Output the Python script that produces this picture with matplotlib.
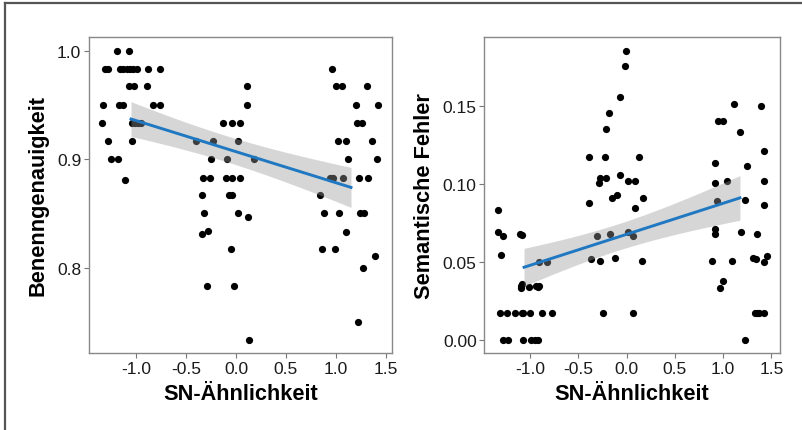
import numpy as np
import matplotlib
matplotlib.use('Agg')
import matplotlib.pyplot as plt
from matplotlib.lines import Line2D

plt.rcParams['font.family'] = ['Liberation Sans', 'DejaVu Sans']

# Benennungsgenauigkeit (links)
ben_x = [-1.19, -1.067,
         -1.31, -1.28, -1.16, -1.127, -1.093, -1.06, -1.027, -0.99, -0.883, -0.76, 0.963,
         -1.07, -1.017, -0.887, 0.107, 1.0, 1.063, 1.31,
         -1.33, -1.167, -1.133, -0.833, -0.76, 0.11, 1.197, 1.417,
         -1.34, -1.04, -1.01, -0.98, -0.95, -0.127, -0.037, 0.043, 1.207, 1.26,
         -1.28, -1.037, -0.403, -0.227, 0.02, 1.017, 1.097, 1.363,
         -1.25, -1.18, -0.25, -0.093, 0.18, 1.123, 1.41,
         -1.107,
         -0.327, -0.257, -0.103, -0.037, 0.043, 0.937, 0.957, 0.973, 1.067, 1.23, 1.32,
         -0.343, -0.067, -0.043, 0.843,
         -0.32, 0.02, 0.88, 1.033, 1.24, 1.283,
         0.123, -0.337, -0.277, 1.097,
         -0.05, 0.863, 0.99,
         1.387, 1.27, -0.287, -0.02, 1.22, 0.133]
ben_y = [1.0, 1.0,
         0.983, 0.983, 0.983, 0.983, 0.983, 0.983, 0.983, 0.983, 0.983, 0.983, 0.983,
         0.967, 0.967, 0.967, 0.967, 0.967, 0.967, 0.967,
         0.95, 0.95, 0.95, 0.95, 0.95, 0.95, 0.95, 0.95,
         0.933, 0.933, 0.933, 0.933, 0.933, 0.933, 0.933, 0.933, 0.933, 0.933,
         0.917, 0.917, 0.917, 0.917, 0.917, 0.917, 0.917, 0.917,
         0.9, 0.9, 0.9, 0.9, 0.9, 0.9, 0.9,
         0.881,
         0.883, 0.883, 0.883, 0.883, 0.883, 0.883, 0.883, 0.883, 0.883, 0.883, 0.883,
         0.867, 0.867, 0.867, 0.867,
         0.85, 0.85, 0.85, 0.85, 0.85, 0.85,
         0.847, 0.831, 0.834, 0.833,
         0.817, 0.817, 0.817,
         0.811, 0.8, 0.783, 0.783, 0.75, 0.733]

# Semantische Fehler (rechts)
sem_x = [-1.33, -1.337, -1.285, -1.302, -1.316, -1.237, -1.161, -1.088, -1.078, -1.005, -0.877, -0.77,
         -1.285, -1.226, -1.078, -0.991, -0.953, -0.922,
         -1.105, -1.088, -1.1, -1.095, -1.09, -1.009, -0.943, -0.922, -0.912, -0.905, -0.822,
         -0.387, -0.387, -0.366, -0.307, -0.287, -0.273, -0.211, -0.221, -0.218, -0.187,
         -0.273, -0.249, -0.176, -0.152, -0.117, -0.097, -0.069, -0.069, -0.021, -0.007,
         0.017, 0.017, 0.062, 0.069, 0.083, 0.083, 0.128, 0.155, 0.173,
         0.881, 0.915, 0.912, 0.915, 0.918, 0.933, 0.943, 0.995, 0.967, 1.002, 1.036, 1.092,
         1.109, 1.178, 1.185, 1.226, 1.226, 1.25, 1.313, 1.34, 1.354, 1.333, 1.35, 1.368,
         1.392, 1.427, 1.427, 1.427, 1.427, 1.454, 1.427]
sem_y = [0.0834, 0.0691, 0.0668, 0.0544, 0.0169, 0.0169, 0.0169, 0.0169, 0.0169, 0.0169, 0.0169, 0.0169,
         0.0, 0.0, 0.0, 0.0, 0.0, 0.0,
         0.0679, 0.0672, 0.033, 0.0345, 0.036, 0.0337, 0.0342, 0.0338, 0.0342, 0.05, 0.05,
         0.117, 0.0877, 0.0519, 0.0666, 0.1003, 0.1037, 0.1037, 0.117, 0.1355, 0.1455,
         0.0508, 0.0171, 0.0679, 0.0909, 0.0527, 0.0928, 0.1554, 0.1056, 0.1756, 0.1854,
         0.102, 0.0691, 0.0666, 0.0171, 0.102, 0.0847, 0.117, 0.0508, 0.0909,
         0.0508, 0.1133, 0.1003, 0.0711, 0.0681, 0.0892, 0.1404, 0.1404, 0.0335, 0.0378, 0.102, 0.0508,
         0.1511, 0.1334, 0.0689, 0.0894, 0.0, 0.1114, 0.0527, 0.0521, 0.0679, 0.0171, 0.0171, 0.0171,
         0.15, 0.1208, 0.1018, 0.0862, 0.0501, 0.0536, 0.0171]

# Regressionsgeraden: Endpunkte und Konfidenzband (Halbbreite min., Zentrum, Kruemmung)
ben_fit_x = [-1.05, 1.15]
ben_fit_y = [0.937, 0.874]
ben_band = (0.012, -0.1, 0.0001245)
sem_fit_x = [-1.064, 1.174]
sem_fit_y = [0.0465, 0.091]
sem_band = (0.0085, -0.1, 0.0000815)

panels = [
    dict(x=ben_x, y=ben_y, fx=ben_fit_x, fy=ben_fit_y, band=ben_band,
         ylabel='Benenngenauigkeit', yticks=[0.8, 0.9, 1.0], yfmt='%.1f',
         xlim=(-1.47, 1.56), ylim=(0.7214, 1.0126),
         rect=[89 / 803, 77 / 431, 303 / 803, 316 / 431], ylx=-0.135),
    dict(x=sem_x, y=sem_y, fx=sem_fit_x, fy=sem_fit_y, band=sem_band,
         ylabel='Semantische Fehler', yticks=[0.0, 0.05, 0.10, 0.15], yfmt='%.2f',
         xlim=(-1.476, 1.589), ylim=(-0.0085, 0.1942),
         rect=[484.3 / 803, 77 / 431, 295.7 / 803, 316 / 431], ylx=-0.167),
]

fig = plt.figure(figsize=(8.03, 4.31), dpi=100)

for p in panels:
    ax = fig.add_axes(p['rect'])
    ax.scatter(p['x'], p['y'], s=27, color='black', linewidths=0, zorder=2)

    xx = np.linspace(p['fx'][0], p['fx'][1], 100)
    slope = (p['fy'][1] - p['fy'][0]) / (p['fx'][1] - p['fx'][0])
    yy = p['fy'][0] + slope * (xx - p['fx'][0])
    h0, xc, k = p['band']
    hw = np.sqrt(h0 ** 2 + k * (xx - xc) ** 2)
    ax.fill_between(xx, yy - hw, yy + hw, color='#999999', alpha=0.4, linewidth=0, zorder=3)
    ax.plot(xx, yy, color='#1f78c1', lw=2.1, zorder=4)

    ax.set_xlim(*p['xlim'])
    ax.set_ylim(*p['ylim'])
    ax.set_xticks([-1.0, -0.5, 0.0, 0.5, 1.0, 1.5])
    ax.set_xticklabels(['%.1f' % t for t in [-1.0, -0.5, 0.0, 0.5, 1.0, 1.5]])
    ax.set_yticks(p['yticks'])
    ax.set_yticklabels([p['yfmt'] % t for t in p['yticks']])
    ax.tick_params(length=3.5, width=0.8, color='#777777', labelsize=12.5, labelcolor='#1a1a1a', pad=2)
    for s in ax.spines.values():
        s.set_color('#888888')
        s.set_linewidth(1.0)

    ax.set_xlabel('SN-Ähnlichkeit', fontsize=15.7, fontweight='bold')
    ax.set_ylabel(p['ylabel'], fontsize=15.7, fontweight='bold')
    ax.xaxis.set_label_coords(0.5, -0.095)
    ax.yaxis.set_label_coords(p['ylx'], 0.5)

# Rahmen oben und links
fig.add_artist(Line2D([4.8 / 803, 4.8 / 803], [0, 1 - 3.5 / 431], color='#555555', lw=1.6))
fig.add_artist(Line2D([4.8 / 803, 1], [1 - 3.5 / 431, 1 - 3.5 / 431], color='#555555', lw=1.6))

plt.savefig('out.png', dpi=100)
